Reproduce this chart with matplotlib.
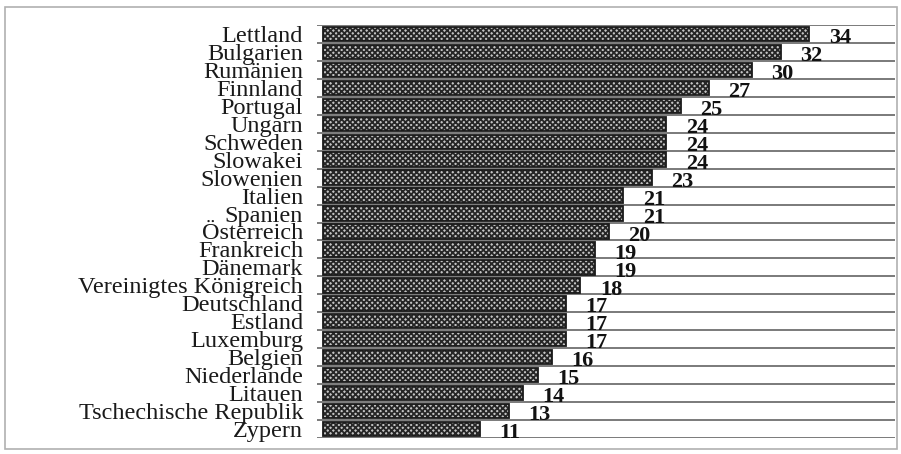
import matplotlib.pyplot as plt
from matplotlib.patches import Rectangle

# Länder und Werte (von oben nach unten)
laender = ['Lettland', 'Bulgarien', 'Rumänien', 'Finnland', 'Portugal', 'Ungarn',
           'Schweden', 'Slowakei', 'Slowenien', 'Italien', 'Spanien', 'Österreich',
           'Frankreich', 'Dänemark', 'Vereinigtes Königreich', 'Deutschland', 'Estland',
           'Luxemburg', 'Belgien', 'Niederlande', 'Litauen', 'Tschechische Republik', 'Zypern']
werte = [34, 32, 30, 27, 25, 24, 24, 24, 23, 21, 21, 20, 19, 19, 18, 17, 17, 17, 16, 15, 14, 13, 11]

plt.rcParams['font.family'] = ['Liberation Serif', 'DejaVu Serif']
plt.rcParams['hatch.linewidth'] = 1.3

fig = plt.figure(figsize=(9.01, 4.54), dpi=100)
ax = fig.add_axes([317 / 901, 1 - 438 / 454, (895 - 317) / 901, (438 - 25) / 454])

pos = list(range(len(laender)))

# Trennlinien zwischen den Zeilen
for k in range(len(laender) + 1):
    ax.axhline(k - 0.5, color='#7a7a7a', lw=1.4, zorder=1)

# Balken: dunkel gemustert, mit schwarzem Rand
ax.barh(pos, werte, height=0.8, color='#c4c4c4', edgecolor='#262626',
        hatch='xxxxxx', lw=0, zorder=2)
ax.barh(pos, werte, height=0.8, fill=False, edgecolor='#1a1a1a', lw=1.3, zorder=3)

for y, v in zip(pos, werte):
    ax.annotate(str(v), (v, y), xytext=(14, -3), textcoords='offset points',
                ha='left', va='center', fontsize=16, fontweight='bold', color='#111111')

ax.set_xlim(-0.42, 40)
ax.set_ylim(len(laender) - 0.5, -0.5)
ax.set_yticks(pos)
ax.set_yticklabels(laender, fontsize=17.5, color='#1a1a1a')
ax.tick_params(axis='y', length=0, pad=10)
ax.set_xticks([])
for s in ax.spines.values():
    s.set_visible(False)

# Rahmen um die gesamte Grafik
fig.patches.append(Rectangle((5 / 901, 1 - 449 / 454), 892 / 901, 442 / 454,
                             transform=fig.transFigure, fill=False,
                             edgecolor='#b0b0b0', lw=1.2))

fig.savefig('out.png', dpi=100)
